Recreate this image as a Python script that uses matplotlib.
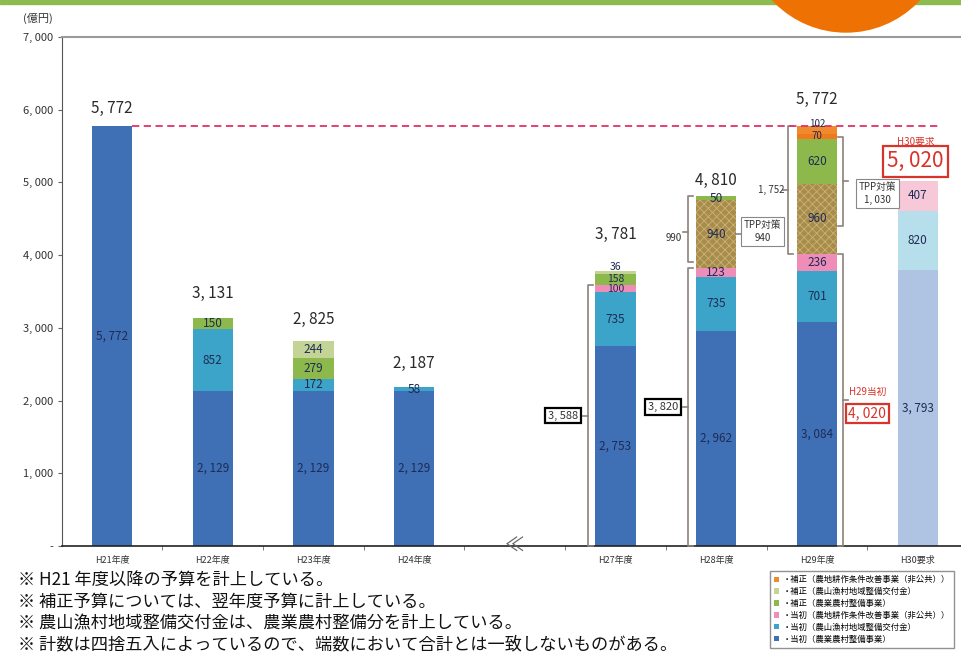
import numpy as np
import matplotlib
matplotlib.use("Agg")
import matplotlib.pyplot as plt
from matplotlib.patches import Rectangle, Circle

plt.rcParams['font.family'] = ['Noto Sans CJK JP', 'DejaVu Sans']
plt.rcParams['hatch.linewidth'] = 0.6

# ----------------------------------------
# Data (億円)
# ----------------------------------------
categories = ["H21年度", "H22年度", "H23年度", "H24年度",
              "H27年度", "H28年度", "H29年度", "H30要求"]
positions = [0, 1, 2, 3, 5, 6, 7, 8]

base_nogyo = [5772, 2129, 2129, 2129, 2753, 2962, 3084, 0]      # 当初 農業農村整備事業
base_kofu = [0, 852, 172, 58, 735, 735, 701, 0]                 # 当初 交付金
base_kaizen = [0, 0, 0, 0, 100, 123, 236, 0]                    # 当初 改善事業
hosei_tpp = [0, 0, 0, 0, 0, 940, 960, 0]                        # 補正 農業農村 (TPP)
hosei_nogyo = [0, 150, 279, 0, 158, 50, 620, 0]                 # 補正 農業農村整備事業
hosei_kaizen_tpp = [0, 0, 0, 0, 0, 0, 70, 0]                    # 補正 改善事業 (TPP)
hosei_kaizen = [0, 0, 0, 0, 0, 0, 102, 0]                       # 補正 改善事業
hosei_kofu = [0, 0, 244, 0, 36, 0, 0, 0]                        # 補正 交付金

req_nogyo = [0, 0, 0, 0, 0, 0, 0, 3793]                         # H30要求
req_kofu = [0, 0, 0, 0, 0, 0, 0, 820]
req_kaizen = [0, 0, 0, 0, 0, 0, 0, 407]

totals = ["5, 772", "3, 131", "2, 825", "2, 187", "3, 781", "4, 810", "5, 772", ""]

legend_labels = [
    "・補正（農地耕作条件改善事業（非公共））",
    "・補正（農山漁村地域整備交付金）",
    "・補正（農業農村整備事業）",
    "・当初（農地耕作条件改善事業（非公共））",
    "・当初（農山漁村地域整備交付金）",
    "・当初（農業農村整備事業）",
]

notes = [
    "※ H21 年度以降の予算を計上している。",
    "※ 補正予算については、翌年度予算に計上している。",
    "※ 農山漁村地域整備交付金は、農業農村整備分を計上している。",
    "※ 計数は四捨五入によっているので、端数において合計とは一致しないものがある。",
]

# ----------------------------------------
# Figure
# ----------------------------------------
fig = plt.figure(figsize=(9.62, 6.56), dpi=100)
ax = fig.add_axes([62 / 962, 1 - 546 / 656, 900 / 962, 509 / 656])

# decorations at top of the page (pixel coords)
fig.patches.append(Rectangle((0, 652), 962, 5, transform=None, color="#8DBB50", zorder=0))
fig.patches.append(Circle((846, 656 + 68), 100, transform=None, color="#EE7203", zorder=1))

W = 0.4
series = [
    (base_nogyo, "#3F6FB5", None, "・当初（農業農村整備事業）"),
    (base_kofu, "#3BA4C8", None, "・当初（農山漁村地域整備交付金）"),
    (base_kaizen, "#EF8DB9", None, "・当初（農地耕作条件改善事業（非公共））"),
    (hosei_tpp, "#A88C4A", "xxxx", None),
    (hosei_nogyo, "#8CB84C", None, "・補正（農業農村整備事業）"),
    (hosei_kaizen_tpp, "#EF7A1E", None, None),
    (hosei_kaizen, "#F08A2E", None, "・補正（農地耕作条件改善事業（非公共））"),
    (hosei_kofu, "#C4D396", None, "・補正（農山漁村地域整備交付金）"),
    (req_nogyo, "#AFC3E3", None, None),
    (req_kofu, "#B7DEEB", None, None),
    (req_kaizen, "#F6C8D8", None, None),
]

bottom = np.zeros(len(positions))
handles = {}
label_col = "#1E2C55"
for vals, col, hatch, lab in series:
    vals = np.array(vals, dtype=float)
    if hatch:
        bars = ax.bar(positions, vals, W, bottom=bottom, color=col, hatch=hatch,
                      edgecolor="#C9B27A", linewidth=0, zorder=2)
    else:
        bars = ax.bar(positions, vals, W, bottom=bottom, color=col, linewidth=0, zorder=2)
    if lab:
        handles[lab] = bars
    for i, v in enumerate(vals):
        if v <= 0:
            continue
        y = bottom[i] + v / 2
        txt = f"{int(v) // 1000}, {int(v) % 1000:03d}" if v >= 1000 else str(int(v))
        fs = 8.5
        if v < 170 and positions[i] == 5:
            fs = 7.5
        if v < 60 and positions[i] == 5:
            y = bottom[i] + v + 60
        if v == 102:
            y = bottom[i] + v + 30
            fs = 7
        if v == 70:
            fs = 7
        ax.text(positions[i], y, txt, ha="center", va="center", fontsize=fs,
                color=label_col, zorder=5)
    bottom = bottom + vals

# totals
offs = [130, 220, 180, 200, 380, 100, 250, 0]
for i, t in enumerate(totals):
    if t:
        ax.text(positions[i], bottom[i] + offs[i], t, ha="center", va="bottom",
                fontsize=11, color="#2A2A2A", zorder=5)

# red dashed line at H21 level
ax.plot([0.2, 8.22], [base_nogyo[0]] * 2, color="#E33265", lw=1.3,
        dashes=(4, 2.5), zorder=4)

# ----------------------------------------
# Brackets and boxes
# ----------------------------------------
bc = "#8C8279"


def bracket(x, y0, y1, side=1, mid=None):
    d = 0.05 * side
    ax.plot([x + d, x, x, x + d], [y0, y0, y1, y1], color=bc, lw=1.2, zorder=3,
            clip_on=False)
    if mid is not None:
        ax.plot([x, x - d], [mid, mid], color=bc, lw=1.2, zorder=3)


box_k = dict(boxstyle="square,pad=0.25", fc="white", ec="black", lw=1.6)
box_g = dict(boxstyle="square,pad=0.3", fc="white", ec="#888888", lw=0.8)
box_r = dict(boxstyle="square,pad=0.2", fc="white", ec="#D9342B", lw=1.6)

s27 = base_nogyo[4] + base_kofu[4] + base_kaizen[4]
s28 = base_nogyo[5] + base_kofu[5] + base_kaizen[5]
s29 = base_nogyo[6] + base_kofu[6] + base_kaizen[6]
t28 = bottom[5]
t29 = bottom[6]

bracket(4.73, 0, s27, 1, s27 / 2)
ax.text(4.48, s27 / 2, "3, 588", ha="center", va="center", fontsize=8,
        color="#333333", bbox=box_k, zorder=6)

bracket(5.72, 0, s28, 1, s28 / 2)
ax.text(5.47, s28 / 2, "3, 820", ha="center", va="center", fontsize=8,
        color="#333333", bbox=box_k, zorder=6)
bracket(5.72, s28 + 80, t28, 1, (s28 + t28) / 2)
ax.text(5.66, (s28 + t28) / 2 - 80, "990", ha="right", va="center", fontsize=7,
        color="#333333")

ax.plot([6.2, 6.3], [s28 + 470] * 2, color=bc, lw=1.2, zorder=3)
ax.text(6.46, 4330, "TPP対策\n940", ha="center", va="center", fontsize=7,
        color="#333333", bbox=box_g, linespacing=1.4, zorder=6)

bracket(6.71, s29, t29, 1, (s29 + t29) / 2)
ax.text(6.68, (s29 + t29) / 2, "1, 752", ha="right", va="center", fontsize=7,
        color="#333333")

bracket(7.26, 4400, 5630, -1, None)
ax.plot([7.26, 7.31], [5015, 5015], color=bc, lw=1.2)
ax.text(7.6, 4850, "TPP対策\n1, 030", ha="center", va="center", fontsize=7,
        color="#333333", bbox=box_g, linespacing=1.4, zorder=6)

bracket(7.26, 0, s29, -1, None)
ax.plot([7.26, 7.31], [s29 / 2, s29 / 2], color=bc, lw=1.2)
ax.text(7.5, 2120, "H29当初", ha="center", va="center", fontsize=7, color="#D9342B")
ax.text(7.5, 1820, "4, 020", ha="center", va="center", fontsize=10,
        color="#D9342B", bbox=box_r, zorder=6)

ax.text(7.98, 5560, "H30要求", ha="center", va="center", fontsize=7, color="#D9342B")
ax.text(7.98, 5290, "5, 020", ha="center", va="center", fontsize=15,
        color="#D9342B", bbox=box_r, zorder=6)

# axis break mark
ax.text(4.0, 0, "≪", ha="center", va="center", fontsize=14, color="#666666",
        zorder=6, clip_on=False)

# ----------------------------------------
# Axes styling
# ----------------------------------------
ax.set_xlim(-0.496, 8.44)
ax.set_ylim(0, 7000)
ax.set_xticks(positions)
ax.set_xticklabels(categories, fontsize=6.5, color="#333333")
ax.set_xticks([0.5, 1.5, 2.5, 3.5, 4.5, 5.5, 6.5, 7.5], minor=True)
ax.tick_params(axis="x", which="major", length=0, pad=7)
ax.tick_params(axis="x", which="minor", length=3, color="#666666")

yt = list(range(0, 7001, 1000))
ax.set_yticks(yt)
ax.set_yticklabels(["-"] + [f"{v // 1000}, {v % 1000:03d}" for v in yt[1:]],
                   fontsize=8, color="#333333")
ax.tick_params(axis="y", length=3, color="#666666")

ax.spines["right"].set_visible(False)
ax.spines["top"].set_color("#9A9A9A")
ax.spines["top"].set_linewidth(1.5)
ax.spines["left"].set_color("#555555")
ax.spines["bottom"].set_color("#222222")
ax.spines["bottom"].set_linewidth(1.2)

fig.text(23 / 962, 1 - 18 / 656, "(億円)", fontsize=8, color="#333333",
         va="center")

# footnotes
for k, n in enumerate(notes):
    fig.text(18 / 962, 1 - (580 + k * 21.5) / 656, n, fontsize=12.4, color="#111111",
             va="center")

# legend
leg = fig.legend([handles[l] for l in legend_labels], legend_labels,
                 loc="lower right", bbox_to_anchor=(958 / 962, 4 / 656),
                 fontsize=6, handlelength=0.6, handleheight=0.6, handletextpad=0.4,
                 labelspacing=0.35, borderpad=0.5, frameon=True, fancybox=False)
leg.get_frame().set_edgecolor("#777777")
leg.get_frame().set_linewidth(1.0)

plt.savefig("out.png", dpi=100)
